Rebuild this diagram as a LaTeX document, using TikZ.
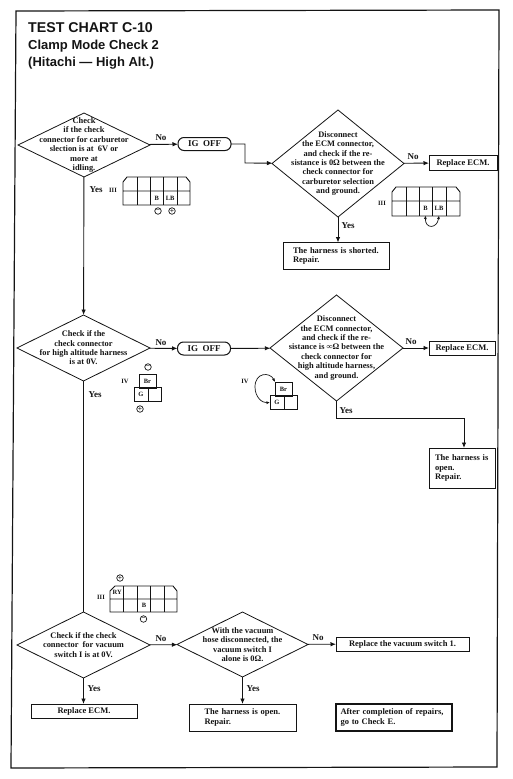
\documentclass[tikz,border=0pt]{standalone}
\usepackage{fontspec}
\usepackage{xcolor}
\setmainfont{Liberation Serif}
\newfontfamily\headfont{Liberation Sans}
\usetikzlibrary{shapes.geometric, arrows.meta, positioning, calc}
\definecolor{ink}{HTML}{141414}
\tikzset{
    every node/.style={text=ink},
    wire/.style={draw=ink, line width=0.9pt},
    flow/.style={wire, -{Latex[length=5.5pt,width=4.5pt]}},
    loopwire/.style={draw=ink, line width=0.7pt, {Latex[length=3.5pt,width=3pt]}-{Latex[length=3.5pt,width=3pt]}},
    decision/.style={diamond, draw=ink, line width=0.8pt, minimum width=132pt, inner sep=0pt, outer sep=0pt},
    dtext/.style={font=\fontsize{8.4}{9.4}\selectfont\bfseries, align=center, inner sep=0pt},
    action/.style={draw=ink, line width=0.9pt, inner sep=0pt, outer sep=0pt, font=\fontsize{8.5}{9.8}\selectfont\bfseries, align=left},
    igoff/.style={draw=ink, line width=1pt, rounded corners=6pt, minimum width=53pt, minimum height=13pt, inner sep=0pt, outer sep=0pt, font=\fontsize{9}{9.4}\selectfont\bfseries},
    tag/.style={font=\fontsize{9}{9.4}\selectfont\bfseries, inner sep=0pt},
    pinbox/.style={inner sep=0pt, outer sep=0pt, minimum width=13pt, minimum height=14pt, font=\fontsize{6.5}{7}\selectfont\bfseries},
    pinframe/.style={pinbox, draw=ink, line width=0.9pt},
    pole/.style={circle, draw=ink, line width=0.7pt, minimum size=6.5pt, inner sep=0pt, font=\fontsize{7.5}{7}\selectfont\bfseries},
    roman/.style={font=\fontsize{6.5}{7}\selectfont\bfseries, inner sep=0pt},
}
\begin{document}
\begin{tikzpicture}[x=1pt, y=-1pt]
    \useasboundingbox (0,0) rectangle (512,779);
    \draw[draw=ink, line width=1.2pt] (16,11) -- (499,10) -- (497,767) -- (11,768) -- cycle;

    \node[font=\headfont\fontsize{14.2}{16}\selectfont\bfseries, anchor=west, inner sep=0pt] (chart) at (28,28) {TEST CHART C-10};
    \node[font=\headfont\fontsize{13}{16.5}\selectfont\bfseries, anchor=north west, align=left, inner sep=0pt] (mode) at (28,40) {Clamp Mode Check 2\\(Hitachi — High Alt.)};

    % decisions
    \node[decision, minimum height=64pt, label={[dtext]center:{Check\\if the check\\connector for carburetor\\slection is at~~6V or\\more at\\idling.}}] (carb) at (84,145) {};
    \node[decision, minimum height=107pt, label={[dtext]center:{Disconnect\\the ECM connector,\\and check if the re-\\sistance is 0Ω between the\\check connector for\\carburetor selection\\and ground.}}] (carbres) at (338,163.5) {};
    \node[decision, minimum width=133pt, minimum height=66pt, label={[dtext]center:{Check if the\\check connector\\for high altitude harness\\is at 0V.}}] (alt) at (83.5,348) {};
    \node[decision, minimum width=133pt, minimum height=106pt, label={[dtext]center:{Disconnect\\the ECM connector,\\and check if the re-\\sistance is ∞Ω between the\\check connector for\\high altitude harness,\\and ground.}}] (altres) at (336.5,348) {};
    \node[decision, minimum width=133pt, minimum height=66pt, label={[dtext]center:{Check if the check\\connector~~for vacuum\\switch I is at 0V.}}] (vac) at (83.5,645) {};
    \node[decision, minimum width=131pt, minimum height=65pt, label={[dtext]center:{With the vacuum\\hose disconnected, the\\vacuum switch I\\alone is 0Ω.}}] (vacres) at (242.5,644.5) {};

    % results
    \node[igoff] (off1) at (204.5,144) {IG~~OFF};
    \node[igoff] (off2) at (204,348.5) {IG~~OFF};
    \node[action, minimum width=68pt, minimum height=15pt, align=center] (ecm1) at (463,163) {Replace ECM.};
    \node[action, minimum width=106pt, minimum height=27pt, text width=86pt] (short) at (336,256) {The harness is shorted.\\Repair.};
    \node[action, minimum width=66pt, minimum height=14pt, align=center] (ecm2) at (462,348) {Replace ECM.};
    \node[action, minimum width=66pt, minimum height=40pt, text width=54pt] (open1) at (462,468) {\mbox{The harness is}\\open.\\Repair.};
    \node[action, minimum width=106pt, minimum height=14pt, align=center] (ecm3) at (84,711) {Replace ECM.};
    \node[action, minimum width=107pt, minimum height=27pt, text width=76pt] (open2) at (242.5,717.5) {The harness is open.\\Repair.};
    \node[action, minimum width=133pt, minimum height=14pt, align=center] (vacswitch) at (402.5,644) {Replace the vacuum switch 1.};
    \node[action, line width=2pt, minimum width=116pt, minimum height=27pt, text width=107pt] (done) at (394,717.5) {After completion of repairs,\\go to Check E.};

    % connectors
    \coordinate (bend1) at (245,144);
    \coordinate (bend2) at (245,163);
    \coordinate (bend3) at (336.5,418);
    \coordinate (bend4) at (464,418);
    \draw[flow] (carb) -- (off1);
    \draw[flow] (off1) -- (bend1) -- (bend2) -- (carbres);
    \draw[flow] (carbres) -- (ecm1);
    \draw[flow] (carbres) -- (carbres |- short.north);
    \draw[flow] (carb) -- (alt);
    \draw[flow] (alt) -- (off2);
    \draw[flow] (off2) -- (altres);
    \draw[flow] (altres) -- (ecm2);
    \draw[flow] (altres) -- (bend3) -- (bend4) -- (bend4 |- open1.north);
    \draw[wire] (alt) -- (vac);
    \draw[flow] (vac) -- (vacres);
    \draw[flow] (vac) -- (vac |- ecm3.north);
    \draw[flow] (vacres) -- (vacswitch);
    \draw[flow] (vacres) -- (open2);

    % connector labels
    \node[tag] (no1) at (161,138) {No};
    \node[tag] (yes1) at (96,190) {Yes};
    \node[tag] (no2) at (413,157) {No};
    \node[tag] (yes2) at (348,226) {Yes};
    \node[tag] (no3) at (161,343) {No};
    \node[tag] (yes3) at (95,395) {Yes};
    \node[tag] (no4) at (411,342) {No};
    \node[tag] (yes4) at (346,411) {Yes};
    \node[tag] (no5) at (161,639) {No};
    \node[tag] (yes5) at (94,689) {Yes};
    \node[tag] (no6) at (318,638) {No};
    \node[tag] (yes6) at (253,689) {Yes};

    % III, carburetor check
    \node[roman] (rom1) at (113,190) {III};
    \draw[draw=ink, line width=0.9pt] (127,177) -- (186,177) -- (190,182) -- (190,205) -- (123,205) -- (123,182) -- cycle (123,191) -- (190,191);
    \foreach \x in {137,150,163.5,177} \draw[draw=ink, line width=0.9pt] (\x,177) -- (\x,205);
    \node[pinbox] (b1) at (156.7,198) {B};
    \node[pinbox] (lb1) at (170.2,198) {LB};
    \node[pole] (minus1) at (158,211) {−};
    \node[pole] (plus1) at (172,211) {+};

    % III, resistance check
    \node[roman] (rom2) at (382,203) {III};
    \draw[draw=ink, line width=0.9pt] (396,187) -- (456,187) -- (460,192) -- (460,216) -- (392,216) -- (392,192) -- cycle (392,201) -- (460,201);
    \foreach \x in {406,419,432,446} \draw[draw=ink, line width=0.9pt] (\x,187) -- (\x,216);
    \node[pinbox] (b2) at (425.5,208.5) {B};
    \node[pinbox] (lb2) at (439,208.5) {LB};
    \draw[loopwire] (b2.south) .. controls (425,229) and (437,229) .. (lb2.south);

    % IV, harness
    \node[roman] (rom3) at (125,381) {IV};
    \node[pinframe, minimum width=17pt] (br1) at (147.5,381) {Br};
    \node[pinframe, minimum width=14pt] (g1) at (141,394.5) {G};
    \node[pinframe] (blank1) at (154.5,394.5) {};
    \node[pole] (minus2) at (148,367) {−};
    \node[pole] (plus2) at (140,409) {+};

    \node[roman] (rom4) at (245,381) {IV};
    \node[pinframe, minimum width=17pt] (br2) at (283.5,389) {Br};
    \node[pinframe, minimum width=14pt] (g2) at (277,402.5) {G};
    \node[pinframe] (blank2) at (290.5,402.5) {};
    \draw[loopwire] (br2.north west) .. controls (270,372) and (255,372) .. (255,387) .. controls (255,397) and (262,403) .. (g2.west);

    % III, vacuum switch
    \node[roman] (rom5) at (101,597) {III};
    \draw[draw=ink, line width=0.9pt] (115,586) -- (173,586) -- (177,591) -- (177,612) -- (110,612) -- (110,591) -- cycle (110,599) -- (177,599);
    \foreach \x in {123.5,137.5,150,164} \draw[draw=ink, line width=0.9pt] (\x,586) -- (\x,612);
    \node[pinbox] (ry) at (117.3,592.8) {RY};
    \node[pinbox] (b3) at (144,605.5) {B};
    \node[pole] (plus3) at (120,578) {+};
    \node[pole] (minus3) at (143.5,619) {−};
\end{tikzpicture}
\end{document}
